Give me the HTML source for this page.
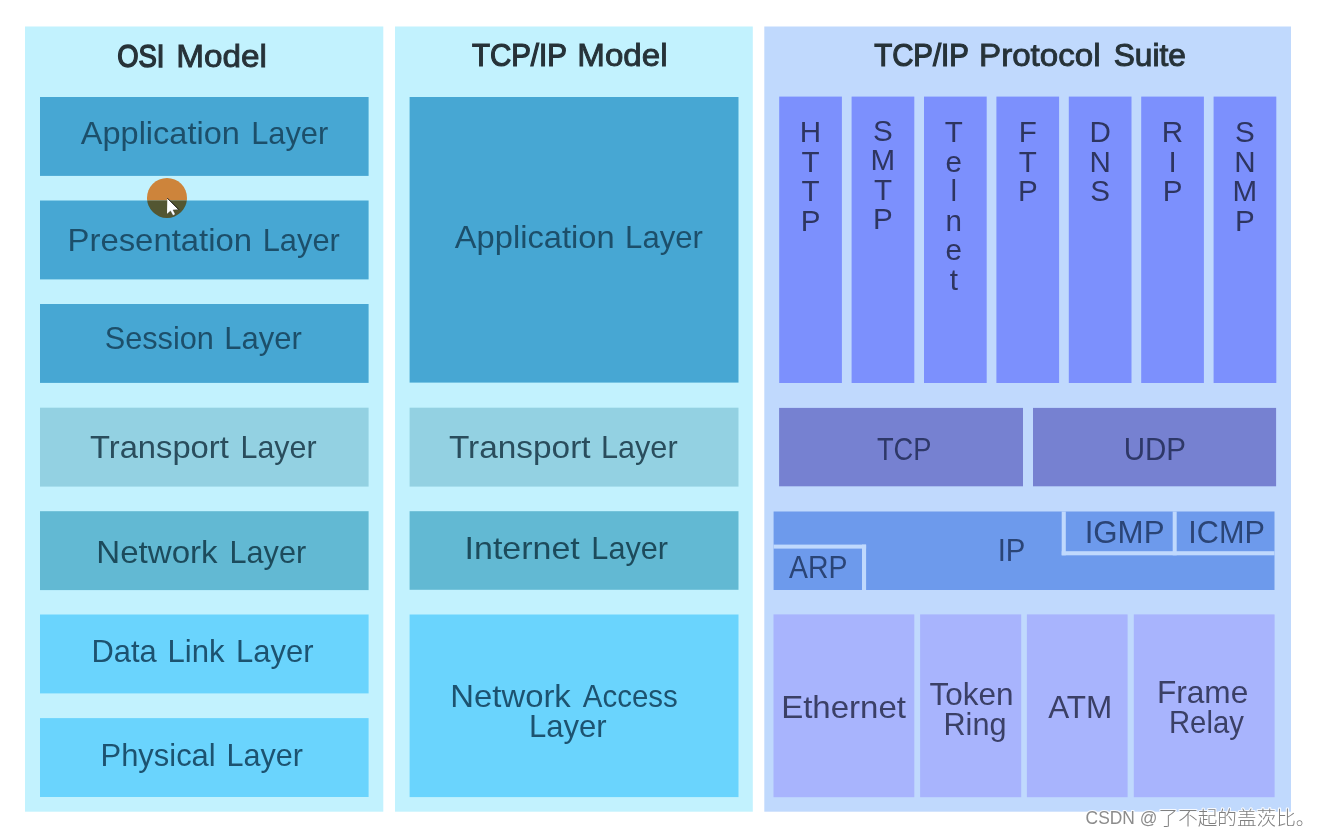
<!DOCTYPE html>
<html lang="en">
<head>
<meta charset="utf-8">
<title>OSI Model vs TCP/IP Model</title>
<style>
html,body{margin:0;padding:0;background:#fff;}
body{width:1319px;height:837px;overflow:hidden;}
svg{display:block;font-family:'Liberation Sans', 'Noto Sans CJK SC', sans-serif;}
</style>
</head>
<body>
<svg width="1319" height="837" viewBox="0 0 1319 837">
<defs><filter id="soft" x="0" y="0" width="1319" height="837" filterUnits="userSpaceOnUse"><feGaussianBlur stdDeviation="0.55"/></filter></defs>
<g filter="url(#soft)">
<rect x="25" y="26.5" width="358.3" height="785.2" fill="#c2f2fe"/>
<rect x="395" y="26.5" width="357.8" height="785.2" fill="#c2f2fe"/>
<rect x="764.3" y="26.5" width="526.7" height="785.2" fill="#c0d9fd"/>
<rect x="40" y="97" width="328.6" height="78.9" fill="#46a7d3"/>
<rect x="40" y="200.5" width="328.6" height="78.9" fill="#46a7d3"/>
<rect x="40" y="304" width="328.6" height="78.9" fill="#46a7d3"/>
<rect x="40" y="407.7" width="328.6" height="78.9" fill="#93d1e2"/>
<rect x="40" y="511.2" width="328.6" height="78.9" fill="#62b9d3"/>
<rect x="40" y="614.5" width="328.6" height="78.9" fill="#6bd4fd"/>
<rect x="40" y="718.1" width="328.6" height="78.9" fill="#6bd4fd"/>
<rect x="409.6" y="97" width="328.9" height="285.6" fill="#46a7d3"/>
<rect x="409.6" y="407.7" width="328.9" height="78.9" fill="#93d1e2"/>
<rect x="409.6" y="511.2" width="328.9" height="78.6" fill="#62b9d3"/>
<rect x="409.6" y="614.5" width="328.9" height="182.6" fill="#6bd4fd"/>
<rect x="779.2" y="96.6" width="62.7" height="286.4" fill="#7c90fd"/>
<rect x="851.6" y="96.6" width="62.7" height="286.4" fill="#7c90fd"/>
<rect x="924" y="96.6" width="62.7" height="286.4" fill="#7c90fd"/>
<rect x="996.4" y="96.6" width="62.7" height="286.4" fill="#7c90fd"/>
<rect x="1068.8" y="96.6" width="62.7" height="286.4" fill="#7c90fd"/>
<rect x="1141.2" y="96.6" width="62.7" height="286.4" fill="#7c90fd"/>
<rect x="1213.6" y="96.6" width="62.7" height="286.4" fill="#7c90fd"/>
<rect x="779.1" y="407.9" width="243.9" height="78.4" fill="#7681d1"/>
<rect x="1033" y="407.9" width="243.1" height="78.4" fill="#7681d1"/>
<rect x="773.6" y="511.5" width="500.9" height="78.5" fill="#6d9aec"/>
<rect x="773.6" y="544.6" width="92.5" height="4" fill="#c0d9fd"/>
<rect x="862" y="544.6" width="4.1" height="45.4" fill="#c0d9fd"/>
<rect x="1061.7" y="511.5" width="4.1" height="43.8" fill="#c0d9fd"/>
<rect x="1061.7" y="551.2" width="212.8" height="4.1" fill="#c0d9fd"/>
<rect x="1172.7" y="511.5" width="4" height="43.8" fill="#c0d9fd"/>
<rect x="773.5" y="614.4" width="140.8" height="182.8" fill="#a8b4fd"/>
<rect x="920.1" y="614.4" width="101.1" height="182.8" fill="#a8b4fd"/>
<rect x="1026.9" y="614.4" width="100.7" height="182.8" fill="#a8b4fd"/>
<rect x="1133.8" y="614.4" width="140.8" height="182.8" fill="#a8b4fd"/>
<clipPath id="cu"><rect x="140" y="170" width="60" height="30.6"/></clipPath>
<clipPath id="cl"><rect x="140" y="200.6" width="60" height="30"/></clipPath>
<circle cx="167" cy="197.9" r="20" fill="#cd843a" clip-path="url(#cu)"/>
<circle cx="167" cy="197.9" r="20" fill="#525630" clip-path="url(#cl)"/>
<path d="M167.3 198.1 L167 213.9 L170.5 210.9 L173 215.4 L175.2 214.3 L173 209.9 L178.6 209.5 Z" fill="#fff"/>
<path d="M167.3 198.1 L178.8 209.6" stroke="#000" stroke-width="0.9" fill="none"/>
<path d="M167 213.9 L170.5 210.9 L173 215.4 L175.2 214.3 L173 209.9 L178.6 209.5" stroke="#222" stroke-width="0.5" fill="none" stroke-opacity="0.6"/>
<text><tspan x="117.17" y="66.7" font-size="31" fill="#263238" textLength="47.25" lengthAdjust="spacingAndGlyphs" stroke="#263238" stroke-width="1.45">OSI</tspan> <tspan x="176.16" y="66.7" font-size="31" fill="#263238" textLength="90.7" lengthAdjust="spacingAndGlyphs" stroke="#263238" stroke-width="0.85">Model</tspan></text>
<text><tspan x="471.9" y="66.4" font-size="31" fill="#263238" textLength="95" lengthAdjust="spacingAndGlyphs" stroke="#263238" stroke-width="1.2">TCP/IP</tspan> <tspan x="577.36" y="66.4" font-size="31" fill="#263238" textLength="90.19" lengthAdjust="spacingAndGlyphs" stroke="#263238" stroke-width="0.85">Model</tspan></text>
<text><tspan x="874.2" y="66.4" font-size="31" fill="#263238" textLength="94.7" lengthAdjust="spacingAndGlyphs" stroke="#263238" stroke-width="1.2">TCP/IP</tspan> <tspan x="979.06" y="66.4" font-size="31" fill="#263238" textLength="121.58" lengthAdjust="spacingAndGlyphs" stroke="#263238" stroke-width="0.85">Protocol</tspan> <tspan x="1113.7" y="66.4" font-size="31" fill="#263238" textLength="72.2" lengthAdjust="spacingAndGlyphs" stroke="#263238" stroke-width="1">Suite</tspan></text>
<text><tspan x="80.8" y="143.5" font-size="32" fill="#1f4f6b" textLength="159.02" lengthAdjust="spacingAndGlyphs">Application</tspan> <tspan x="251.13" y="143.5" font-size="32" fill="#1f4f6b" textLength="77.1" lengthAdjust="spacingAndGlyphs">Layer</tspan></text>
<text><tspan x="67.54" y="250.8" font-size="32" fill="#1f4f6b" textLength="184.51" lengthAdjust="spacingAndGlyphs">Presentation</tspan> <tspan x="262.72" y="250.8" font-size="32" fill="#1f4f6b" textLength="77.09" lengthAdjust="spacingAndGlyphs">Layer</tspan></text>
<text><tspan x="104.75" y="348.8" font-size="32" fill="#1f4f6b" textLength="109.13" lengthAdjust="spacingAndGlyphs">Session</tspan> <tspan x="224.3" y="348.8" font-size="32" fill="#1f4f6b" textLength="77.51" lengthAdjust="spacingAndGlyphs">Layer</tspan></text>
<text><tspan x="89.99" y="457.7" font-size="32" fill="#2a4e5d" textLength="138.82" lengthAdjust="spacingAndGlyphs">Transport</tspan> <tspan x="240.54" y="457.7" font-size="32" fill="#2a4e5d" textLength="76.06" lengthAdjust="spacingAndGlyphs">Layer</tspan></text>
<text><tspan x="96.35" y="562.8" font-size="32" fill="#1f4c5c" textLength="121.25" lengthAdjust="spacingAndGlyphs">Network</tspan> <tspan x="229.52" y="562.8" font-size="32" fill="#1f4c5c" textLength="76.67" lengthAdjust="spacingAndGlyphs">Layer</tspan></text>
<text><tspan x="91.52" y="662.4" font-size="32" fill="#1f5270" textLength="65.28" lengthAdjust="spacingAndGlyphs">Data</tspan> <tspan x="167.52" y="662.4" font-size="32" fill="#1f5270" textLength="57.08" lengthAdjust="spacingAndGlyphs">Link</tspan> <tspan x="236.12" y="662.4" font-size="32" fill="#1f5270" textLength="77.49" lengthAdjust="spacingAndGlyphs">Layer</tspan></text>
<text><tspan x="100.52" y="766" font-size="32" fill="#1f5270" textLength="115.15" lengthAdjust="spacingAndGlyphs">Physical</tspan> <tspan x="226.53" y="766" font-size="32" fill="#1f5270" textLength="76.47" lengthAdjust="spacingAndGlyphs">Layer</tspan></text>
<text><tspan x="454.8" y="248.2" font-size="32" fill="#1f4f6b" textLength="159.82" lengthAdjust="spacingAndGlyphs">Application</tspan> <tspan x="625.11" y="248.2" font-size="32" fill="#1f4f6b" textLength="77.7" lengthAdjust="spacingAndGlyphs">Layer</tspan></text>
<text><tspan x="448.99" y="457.7" font-size="32" fill="#2a4e5d" textLength="141.52" lengthAdjust="spacingAndGlyphs">Transport</tspan> <tspan x="600.93" y="457.7" font-size="32" fill="#2a4e5d" textLength="76.67" lengthAdjust="spacingAndGlyphs">Layer</tspan></text>
<text><tspan x="464.54" y="559.3" font-size="32" fill="#1f4c5c" textLength="115.28" lengthAdjust="spacingAndGlyphs">Internet</tspan> <tspan x="591.34" y="559.3" font-size="32" fill="#1f4c5c" textLength="76.68" lengthAdjust="spacingAndGlyphs">Layer</tspan></text>
<text><tspan x="450.37" y="707" font-size="32" fill="#1f5270" textLength="120.43" lengthAdjust="spacingAndGlyphs">Network</tspan> <tspan x="582.8" y="707" font-size="32" fill="#1f5270" textLength="95.01" lengthAdjust="spacingAndGlyphs">Access</tspan></text>
<text x="528.89" y="736.8" font-size="32" fill="#1f5270" textLength="77.72" lengthAdjust="spacingAndGlyphs">Layer</text>
<text x="810.55 810.55 810.55 810.55" y="142.10 171.67 201.24 230.81" font-size="29.6" fill="#2e3560" text-anchor="middle">HTTP</text>
<text x="882.95 882.95 882.95 882.95" y="140.70 170.27 199.84 229.41" font-size="29.6" fill="#2e3560" text-anchor="middle">SMTP</text>
<text x="953.75 953.75 953.75 953.75 953.75 953.75" y="142.10 171.67 201.24 230.81 260.38 289.95" font-size="29.6" fill="#2e3560" text-anchor="middle">Telnet</text>
<text x="1027.75 1027.75 1027.75" y="142.10 171.67 201.24" font-size="29.6" fill="#2e3560" text-anchor="middle">FTP</text>
<text x="1100.15 1100.15 1100.15" y="142.10 171.67 201.24" font-size="29.6" fill="#2e3560" text-anchor="middle">DNS</text>
<text x="1172.55 1172.55 1172.55" y="142.10 171.67 201.24" font-size="29.6" fill="#2e3560" text-anchor="middle">RIP</text>
<text x="1244.95 1244.95 1244.95 1244.95" y="142.10 171.67 201.24 230.81" font-size="29.6" fill="#2e3560" text-anchor="middle">SNMP</text>
<text x="876.93" y="459.5" font-size="32" fill="#2f3868" textLength="54.59" lengthAdjust="spacingAndGlyphs">TCP</text>
<text x="1123.73" y="459.5" font-size="32" fill="#2f3868" textLength="62.32" lengthAdjust="spacingAndGlyphs">UDP</text>
<text x="997.67" y="561.3" font-size="32" fill="#2c4476" textLength="27.69" lengthAdjust="spacingAndGlyphs">IP</text>
<text x="789" y="577.8" font-size="32" fill="#2c4476" textLength="58.42" lengthAdjust="spacingAndGlyphs">ARP</text>
<text x="1084.64" y="542.6" font-size="32" fill="#2c4476" textLength="79.86" lengthAdjust="spacingAndGlyphs">IGMP</text>
<text x="1188.26" y="542.6" font-size="32" fill="#2c4476" textLength="76.6" lengthAdjust="spacingAndGlyphs">ICMP</text>
<text x="781.16" y="718.1" font-size="32" fill="#3a3f66" textLength="124.84" lengthAdjust="spacingAndGlyphs">Ethernet</text>
<text x="929.4" y="705.3" font-size="32" fill="#3a3f66" textLength="84.05" lengthAdjust="spacingAndGlyphs">Token</text>
<text x="943.49" y="734.9" font-size="32" fill="#3a3f66" textLength="63.01" lengthAdjust="spacingAndGlyphs">Ring</text>
<text x="1048.22" y="718.3" font-size="32" fill="#3a3f66" textLength="64.06" lengthAdjust="spacingAndGlyphs">ATM</text>
<text x="1156.91" y="703.3" font-size="32" fill="#3a3f66" textLength="91.33" lengthAdjust="spacingAndGlyphs">Frame</text>
<text x="1168.98" y="732.9" font-size="32" fill="#3a3f66" textLength="74.82" lengthAdjust="spacingAndGlyphs">Relay</text>
<text x="1085.6" y="824.4" font-size="19" fill="#8c8c8c" textLength="71.8" lengthAdjust="spacingAndGlyphs" stroke="#fff" stroke-width="2.2" stroke-opacity="0.85" stroke-linejoin="round" style="paint-order:stroke">CSDN @</text>
<text x="1158.6" y="824.8" font-size="19.6" font-weight="300" fill="#808080" stroke="#fff" stroke-width="2.2" stroke-opacity="0.85" stroke-linejoin="round" style="paint-order:stroke">了不起的盖茨比。</text>
</g>
</svg>
</body>
</html>
